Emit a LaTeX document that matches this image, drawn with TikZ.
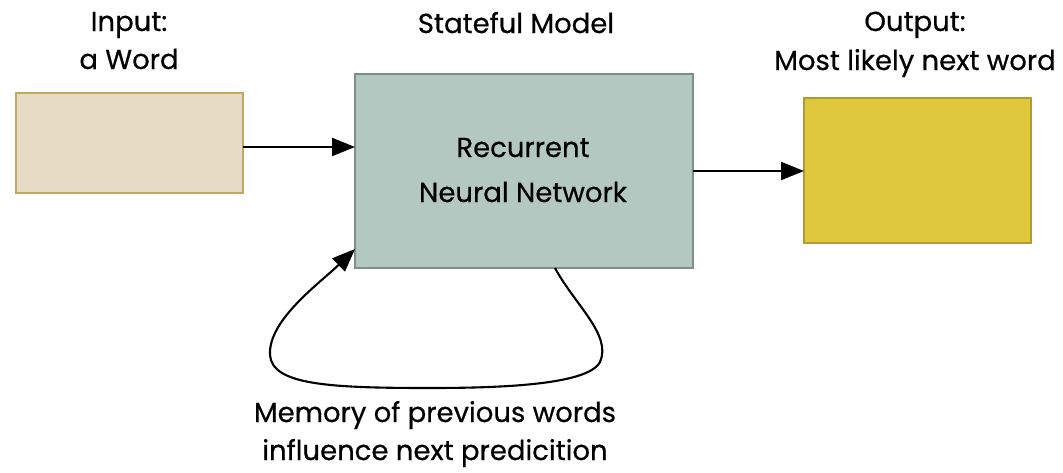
\documentclass[tikz,border=0pt]{standalone}
\usepackage{fontspec}
\setmainfont{Poppins}[FakeBold=0.5]
\usetikzlibrary{arrows.meta}
\definecolor{inFill}{HTML}{E6DCC5}
\definecolor{inLine}{HTML}{C2A765}
\definecolor{rnnFill}{HTML}{B3C8C1}
\definecolor{rnnLine}{HTML}{7E8E88}
\definecolor{outFill}{HTML}{E0C83C}
\definecolor{outLine}{HTML}{B09A3A}
\tikzset{
  box/.style={draw, line width=1.6pt, minimum width=#1, inner sep=0pt, outer sep=0pt},
  lbl/.style={anchor=base, font=\fontsize{27.5}{28}\selectfont, inner sep=0pt},
  arr/.style={line width=2.1pt, -{Triangle[length=23pt,width=18pt]}},
}
\begin{document}
\begin{tikzpicture}[x=1pt,y=-1pt]
\useasboundingbox (0,0) rectangle (1063,472);
% boxes
\node[box=227pt, minimum height=100pt, fill=inFill, draw=inLine] (in) at (129.5,143) {};
\node[box=338pt, minimum height=194pt, fill=rnnFill, draw=rnnLine] (rnn) at (524,171) {};
\node[box=227pt, minimum height=145pt, fill=outFill, draw=outLine] (out) at (917.5,170.5) {};
% labels
\node[lbl] (inA) at (129,31) {Input:};
\node[lbl] (inB) at (129,69) {a Word};
\node[lbl] (st) at (516,33) {Stateful Model};
\node[lbl] (outA) at (915,31) {Output:};
\node[lbl] (outB) at (915,70) {Most likely next word};
\node[lbl] (rA) at (523,157) {Recurrent};
\node[lbl] (rB) at (523,202) {Neural Network};
\node[lbl] (mA) at (435,422) {Memory of previous words};
\node[lbl] (mB) at (435,460) {influence next predicition};
% connectors
\coordinate (is) at ([yshift=-4pt]in.east);
\draw[arr] (is) -- (rnn.west |- is);
\draw[arr] (rnn.east) -- (out.west |- rnn.east);
\coordinate (ls) at ([xshift=200pt]rnn.south west);
\coordinate (le) at ([yshift=19pt]rnn.south west);
\draw[arr] (ls) .. controls (575,305) and (612,335) .. (600,362)
  .. controls (588,385) and (500,388) .. (430,388)
  .. controls (330,388) and (272,385) .. (270,355)
  .. controls (268,320) and (320,283) .. (le);
\end{tikzpicture}
\end{document}
